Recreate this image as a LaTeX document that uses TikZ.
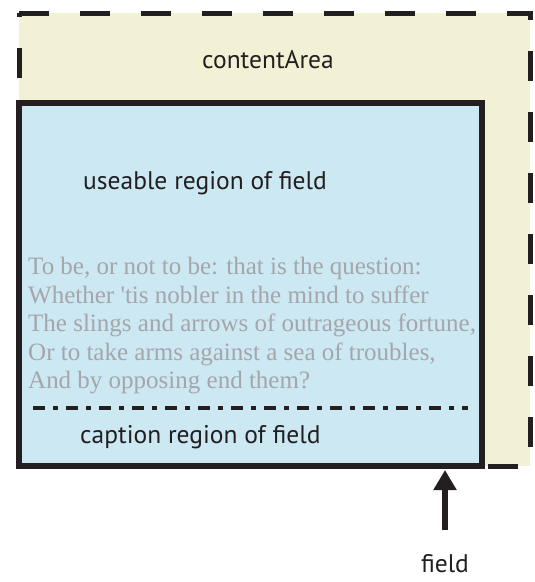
\documentclass[tikz,border=0pt]{standalone}
\usepackage{fontspec}
\setmainfont{PT Sans}
\newfontfamily\poemfont{Liberation Serif}
\usetikzlibrary{arrows.meta}
\definecolor{areayellow}{HTML}{F2F1D5}
\definecolor{fieldblue}{HTML}{CBE8F3}
\definecolor{poemgray}{HTML}{A5A6AA}
\definecolor{inkblack}{HTML}{231F20}

\begin{document}
\begin{tikzpicture}[x=1pt,y=-1pt,
  labeltext/.style={font=\fontsize{25.5}{30}\selectfont, text=inkblack, inner sep=0pt},
  poemtext/.style={font=\poemfont\fontsize{25}{28.5}\selectfont, text=poemgray, align=left, inner sep=0pt},
  fieldbox/.style={draw=inkblack, fill=fieldblue, line width=5.5pt, minimum width=463pt, minimum height=363pt, inner sep=0pt, outer sep=0pt},
  areadash/.style={draw=inkblack, line width=5pt, dash pattern=on 30pt off 31pt},
  dashdotline/.style={draw=inkblack, line width=4pt, dash pattern=on 12pt off 8pt on 5pt off 8pt},
  fieldarrow/.style={draw=inkblack, line width=6pt, -{Triangle[length=20pt,width=22pt]}}]
\useasboundingbox (0,0) rectangle (535,582);
\fill[areayellow] (19,13) rectangle (530,466);
\draw[areadash] (19,13) -- (530,13) -- (530,466) -- (19,466);
\draw[areadash, dash phase=26pt] (19,13) -- (19,466);
\node[fieldbox] (field) at (250.5,284.5) {};
\node[labeltext] (contentarea) at (268,60) {contentArea};
\node[labeltext, anchor=west] (useable) at (83,183) {useable region of field};
\node[poemtext, anchor=north west] (poem) at (28,257) {To be, or not to be: that is the question:\\
Whether 'tis nobler in the mind to suffer\\
The slings and arrows of outrageous fortune,\\
Or to take arms against a sea of troubles,\\
And by opposing end them?};
\draw[dashdotline] (33,408) -- (468,408);
\node[labeltext, anchor=west] (caption) at (80,437) {caption region of field};
\node[labeltext] (fieldlabel) at (445,564) {field};
\coordinate (fieldtail) at (445,530);
\draw[fieldarrow, shorten >=4pt] (fieldtail) -- (fieldtail |- field.south);
\end{tikzpicture}
\end{document}
